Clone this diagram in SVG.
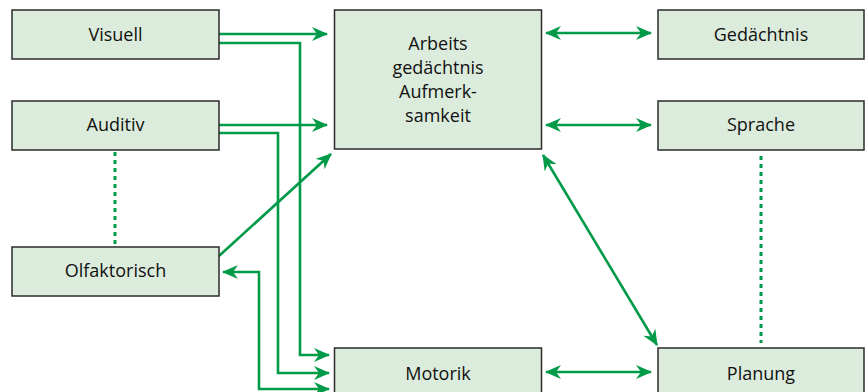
<svg xmlns="http://www.w3.org/2000/svg" width="865" height="392" viewBox="0 0 865 392">
<style>
.box{fill:#dcecdc;stroke:#2b2b2b;stroke-width:1.5}
.lbl{font-family:"Open Sans","Noto Sans","Liberation Sans",sans-serif;font-size:18px;fill:#111;text-anchor:middle}
.c{fill:none;stroke:#009a48;stroke-width:2.6}
.d{fill:none;stroke:#009a48;stroke-width:3;stroke-dasharray:4 4}
</style>
<defs>
<marker id="ah" viewBox="0 0 16 14" refX="15" refY="7" markerWidth="16" markerHeight="14" markerUnits="userSpaceOnUse" orient="auto-start-reverse">
<path d="M0,0 L16,7 L0,14 L5,7 z" fill="#009a48"/>
</marker>
</defs>
<g id="connectors">
<path class="c" d="M219,34 H327" marker-end="url(#ah)"/>
<path class="c" d="M219,43 H300 V355 H329" marker-end="url(#ah)"/>
<path class="c" d="M219,125 H327" marker-end="url(#ah)"/>
<path class="c" d="M219,133 H278 V373 H329" marker-end="url(#ah)"/>
<path class="c" d="M219,256 L331,154" marker-end="url(#ah)"/>
<path class="c" d="M329,389 H259 V272 H223" marker-start="url(#ah)" marker-end="url(#ah)"/>
<path class="c" d="M546,33 H651" marker-start="url(#ah)" marker-end="url(#ah)"/>
<path class="c" d="M546,125 H651" marker-start="url(#ah)" marker-end="url(#ah)"/>
<path class="c" d="M546,372 H651" marker-start="url(#ah)" marker-end="url(#ah)"/>
<path class="c" d="M543,155 L657,345" marker-start="url(#ah)" marker-end="url(#ah)"/>
<path class="d" d="M115,152 V244"/>
<path class="d" d="M761,156 V343"/>
</g>
<g id="visuell"><rect class="box" x="12" y="10" width="207" height="49"/><text class="lbl" x="115.5" y="41">Visuell</text></g>
<g id="auditiv"><rect class="box" x="12" y="101" width="207" height="49"/><text class="lbl" x="115.5" y="131">Auditiv</text></g>
<g id="olfaktorisch"><rect class="box" x="12" y="247" width="207" height="49"/><text class="lbl" x="115.5" y="277">Olfaktorisch</text></g>
<g id="arbeitsgedaechtnis"><rect class="box" x="334.5" y="10" width="207" height="139"/>
<text class="lbl" x="438" y="50">Arbeits</text>
<text class="lbl" x="438" y="74">gedächtnis</text>
<text class="lbl" x="438" y="98">Aufmerk-</text>
<text class="lbl" x="438" y="122">samkeit</text></g>
<g id="gedaechtnis"><rect class="box" x="658" y="10" width="206" height="49"/><text class="lbl" x="761" y="41">Gedächtnis</text></g>
<g id="sprache"><rect class="box" x="658" y="101" width="206" height="49"/><text class="lbl" x="761" y="131">Sprache</text></g>
<g id="motorik"><rect class="box" x="334.5" y="348" width="207" height="60"/><text class="lbl" x="438" y="380">Motorik</text></g>
<g id="planung"><rect class="box" x="658" y="348" width="206" height="60"/><text class="lbl" x="761" y="380">Planung</text></g>
</svg>
